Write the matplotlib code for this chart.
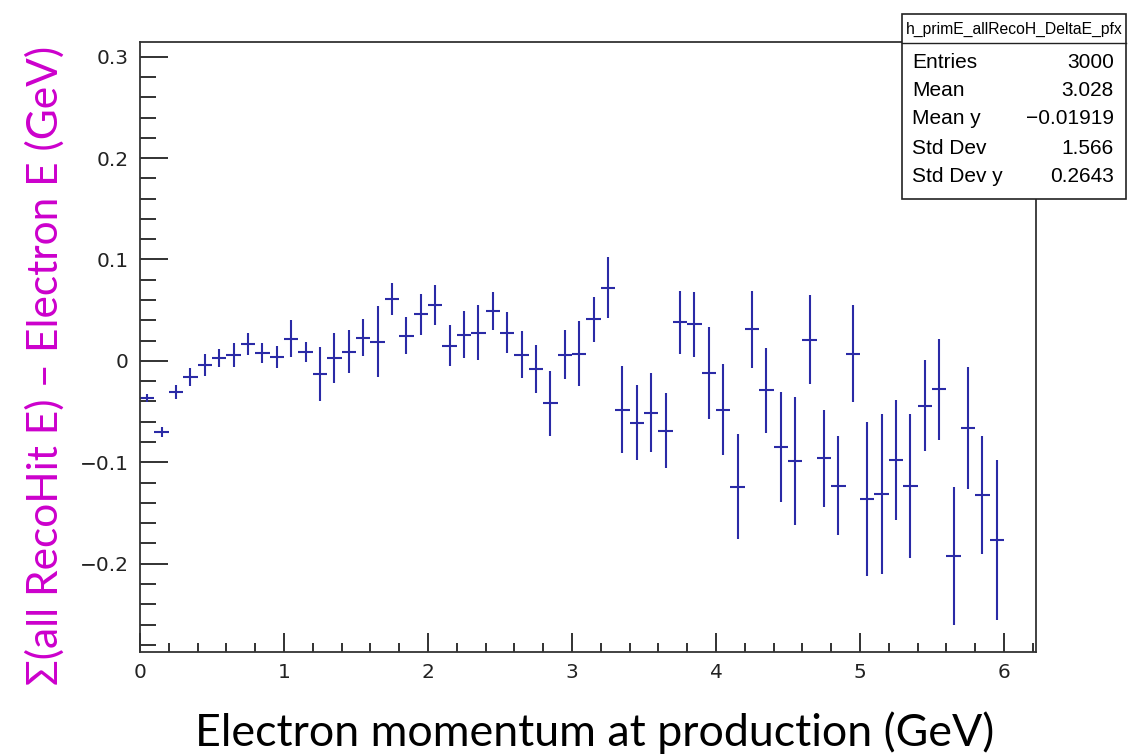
import matplotlib
matplotlib.use("Agg")
import matplotlib.pyplot as plt
from matplotlib.ticker import MultipleLocator
from matplotlib.patches import Rectangle
from matplotlib.lines import Line2D

# profile bins: electron momentum (GeV), bin width 0.1
bin_centers = [0.05, 0.15, 0.25, 0.35, 0.45, 0.55, 0.65, 0.75, 0.85, 0.95,
               1.05, 1.15, 1.25, 1.35, 1.45, 1.55, 1.65, 1.75, 1.85, 1.95,
               2.05, 2.15, 2.25, 2.35, 2.45, 2.55, 2.65, 2.75, 2.85, 2.95,
               3.05, 3.15, 3.25, 3.35, 3.45, 3.55, 3.65, 3.75, 3.85, 3.95,
               4.05, 4.15, 4.25, 4.35, 4.45, 4.55, 4.65, 4.75, 4.85, 4.95,
               5.05, 5.15, 5.25, 5.35, 5.45, 5.55, 5.65, 5.75, 5.85, 5.95]
half_width = 0.05

delta_e = [-0.037, -0.070, -0.031, -0.016, -0.004, 0.003, 0.006, 0.017, 0.008, 0.004,
           0.022, 0.009, -0.013, 0.003, 0.009, 0.023, 0.019, 0.061, 0.025, 0.046,
           0.055, 0.015, 0.026, 0.028, 0.049, 0.028, 0.006, -0.008, -0.042, 0.006,
           0.007, 0.041, 0.072, -0.048, -0.061, -0.051, -0.069, 0.038, 0.036, -0.012,
           -0.048, -0.124, 0.031, -0.029, -0.085, -0.099, 0.021, -0.096, -0.123, 0.007,
           -0.136, -0.131, -0.098, -0.123, -0.044, -0.028, -0.192, -0.066, -0.132, -0.177]

delta_e_err = [0.004, 0.005, 0.007, 0.009, 0.011, 0.009, 0.012, 0.011, 0.010, 0.011,
               0.018, 0.010, 0.027, 0.025, 0.021, 0.018, 0.035, 0.016, 0.018, 0.020,
               0.020, 0.020, 0.023, 0.027, 0.019, 0.020, 0.023, 0.024, 0.032, 0.024,
               0.032, 0.022, 0.030, 0.043, 0.037, 0.039, 0.037, 0.031, 0.032, 0.045,
               0.045, 0.052, 0.038, 0.042, 0.054, 0.063, 0.044, 0.048, 0.049, 0.048,
               0.076, 0.079, 0.059, 0.071, 0.045, 0.050, 0.068, 0.060, 0.058, 0.079]

stats_name = "h_primE_allRecoH_DeltaE_pfx"
stats_labels = ["Entries", "Mean", "Mean y", "Std Dev", "Std Dev y"]
stats_values = ["3000", "3.028", "\u22120.01919", "1.566", "0.2643"]

W, H = 1133, 754
fig = plt.figure(figsize=(W / 100, H / 100), dpi=100)
ax = fig.add_axes([140 / W, 1 - 651.7 / H, 896 / W, 610 / H])

ax.errorbar(bin_centers, delta_e, xerr=half_width, yerr=delta_e_err,
            fmt="none", ecolor="#2a2aa6", elinewidth=1.5, capsize=0)

ax.set_xlim(0, 6.222)
ax.set_ylim(-0.2868, 0.3148)

ax.xaxis.set_major_locator(MultipleLocator(1))
ax.xaxis.set_minor_locator(MultipleLocator(0.2))
ax.yaxis.set_major_locator(MultipleLocator(0.1))
ax.yaxis.set_minor_locator(MultipleLocator(0.02))
ax.tick_params(axis="both", which="both", direction="in", colors="#222222",
               width=1.3, top=False, right=False, labelsize=14.5)
ax.tick_params(axis="x", which="major", length=13.7, pad=8)
ax.tick_params(axis="x", which="minor", length=6.7)
ax.tick_params(axis="y", which="major", length=20, pad=8)
ax.tick_params(axis="y", which="minor", length=11.2)
ax.yaxis.set_major_formatter(plt.FuncFormatter(
    lambda v, _: "0" if abs(v) < 1e-9 else f"{v:.1f}".replace("-", "\u2212")))
for lab in ax.get_xticklabels() + ax.get_yticklabels():
    lab.set_family("DejaVu Sans")
for s in ax.spines.values():
    s.set_linewidth(1.3)
    s.set_color("#333333")

# stats box
bx0, bx1, by0, by1, bsep = 902, 1126, 14, 199, 43.3
fig.patches.append(Rectangle((bx0 / W, 1 - by1 / H), (bx1 - bx0) / W, (by1 - by0) / H,
                             transform=fig.transFigure, facecolor="white",
                             edgecolor="#222222", linewidth=1.2, zorder=5))
fig.lines.append(Line2D([bx0 / W, bx1 / W], [1 - bsep / H, 1 - bsep / H],
                        transform=fig.transFigure, color="#222222", linewidth=1.0, zorder=6))
fig.text((bx0 + bx1) / 2 / W, 1 - 29 / H, stats_name, family="Liberation Sans",
         fontsize=11.3, ha="center", va="center", zorder=7)
row_y = [62, 90.7, 119, 148, 176.7]
for yy, lab, val in zip(row_y, stats_labels, stats_values):
    fig.text(912 / W, 1 - yy / H, lab, family="Liberation Sans", fontsize=15,
             ha="left", va="center", zorder=7)
    fig.text(1114 / W, 1 - yy / H, val, family="Liberation Sans", fontsize=15,
             ha="right", va="center", zorder=7)

# slide-style axis titles
fig.text(595 / W, 1 - 746 / H, "Electron momentum at production (GeV)",
         family="Lato", fontsize=32.2, ha="center", va="baseline", color="black")
fig.text(45 / W, 1 - 365 / H, "\u03a3(all RecoHit E) \u2013 Electron E (GeV)",
         family="Lato", fontsize=30.5, ha="center", va="center", rotation=90,
         color="#cc00cc")

fig.savefig("out.png", dpi=100)
